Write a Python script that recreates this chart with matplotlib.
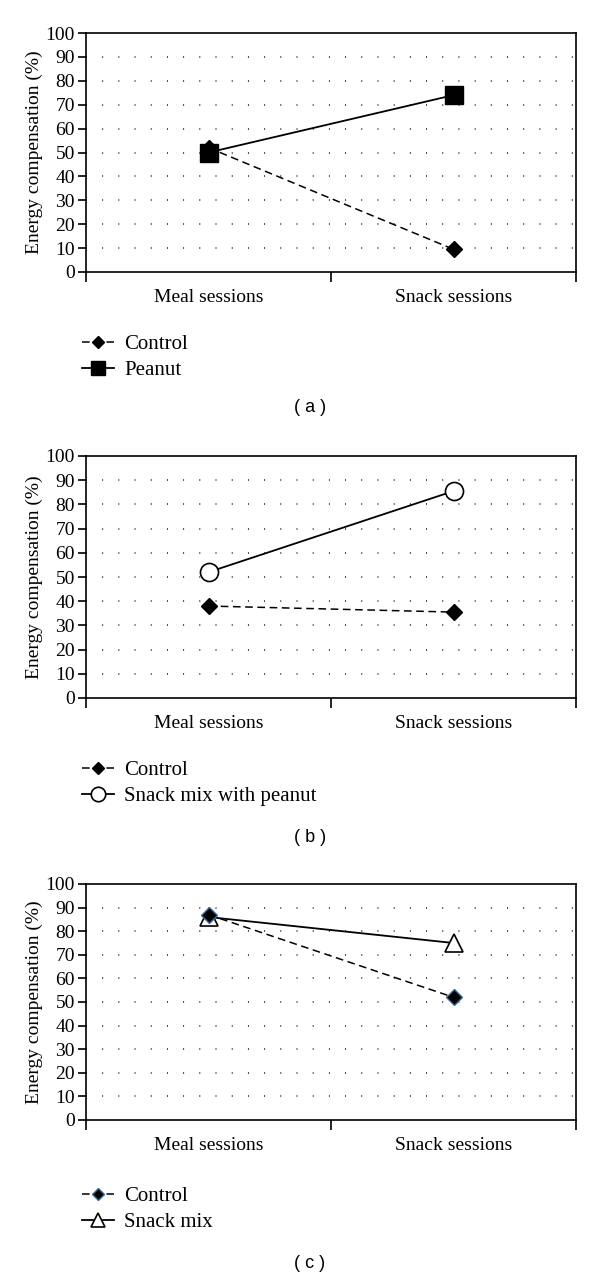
import matplotlib.pyplot as plt
import numpy as np

categories = ["Meal sessions", "Snack sessions"]

control_a = [52, 9.5]
peanut_a = [50, 74]

control_b = [38, 35.5]
snackmix_peanut_b = [52, 85.5]

control_c = [87, 52]
snackmix_c = [86, 75]

yticks = list(range(0, 101, 10))

plt.rcParams['font.family'] = ['Liberation Serif', 'DejaVu Serif']

fig = plt.figure(figsize=(6, 12.78), dpi=100)
H = 1278.0
W = 600.0

def make_axes(top_px, bot_px):
    ax = fig.add_axes([86 / W, 1 - bot_px / H, (576 - 86) / W, (bot_px - top_px) / H])
    ax.set_xlim(0, 2)
    ax.set_ylim(0, 100)
    ax.set_yticks(yticks)
    ax.set_yticklabels([str(v) for v in yticks], fontsize=14)
    for y in yticks[1:-1]:
        ax.axhline(y, color='black', lw=1.1, ls=(0, (0.6, 10)), zorder=0)
    ax.set_xticks([0, 1, 2])
    ax.set_xticklabels([])
    ax.set_xticks([0.5, 1.5], minor=True)
    ax.set_xticklabels(categories, minor=True, fontsize=14)
    ax.tick_params(axis='x', which='minor', length=0, pad=12)
    ax.tick_params(axis='x', which='major', length=7, width=1.2, direction='out')
    ax.tick_params(axis='y', length=6, width=1.2, direction='out', pad=2)
    for s in ax.spines.values():
        s.set_linewidth(1.2)
    ax.set_ylabel("Energy compensation (%)", fontsize=14, labelpad=2)
    return ax

def add_legend(handles, labels, top_px):
    fig.legend(handles, labels, loc='upper left', bbox_to_anchor=(63 / W, 1 - top_px / H),
               frameon=False, fontsize=15, handlelength=1.55, handletextpad=0.5, labelspacing=0.3,
               markerscale=0.8)

x = np.array([0.5, 1.5])

# (a)
ax = make_axes(33, 272)
l1, = ax.plot(x, control_a, color='black', ls=(0, (5, 3)), lw=1.1, marker='D', ms=8, mfc='black', mec='black')
l2, = ax.plot(x, peanut_a, color='black', ls='-', lw=1.3, marker='s', ms=13, mfc='black', mec='black')
add_legend([l1, l2], ["Control", "Peanut"], 316)
fig.text(310 / W, 1 - 408 / H, "( a )", ha='center', va='center', fontsize=13, family='Liberation Sans')

# (b)
ax = make_axes(456, 698)
l1, = ax.plot(x, control_b, color='black', ls=(0, (5, 3)), lw=1.1, marker='D', ms=8, mfc='black', mec='black')
l2, = ax.plot(x, snackmix_peanut_b, color='black', ls='-', lw=1.3, marker='o', ms=13, mfc='white', mec='black', mew=1.2)
add_legend([l1, l2], ["Control", "Snack mix with peanut"], 742)
fig.text(310 / W, 1 - 838 / H, "( b )", ha='center', va='center', fontsize=13, family='Liberation Sans')

# (c)
ax = make_axes(884, 1120)
l2, = ax.plot(x, snackmix_c, color='black', ls='-', lw=1.3, marker='^', ms=13, mfc='white', mec='black', mew=1.2)
l1, = ax.plot(x, control_c, color='black', ls=(0, (5, 3)), lw=1.1, marker='D', ms=8, mfc='black', mec='#3a6a9a', mew=1.0)
add_legend([l1, l2], ["Control", "Snack mix"], 1168)
fig.text(310 / W, 1 - 1264 / H, "( c )", ha='center', va='center', fontsize=13, family='Liberation Sans')

fig.savefig("out.png", dpi=100)
